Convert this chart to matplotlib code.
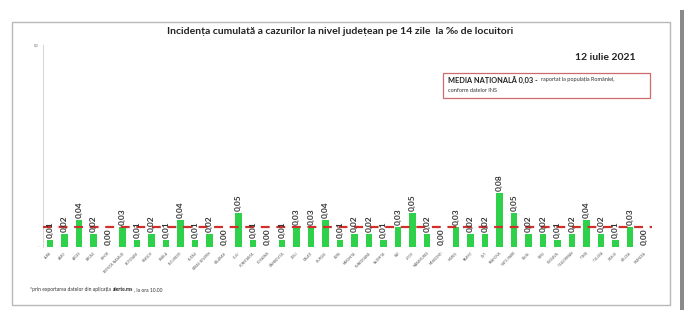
import matplotlib
matplotlib.use("Agg")
import matplotlib.pyplot as plt
from matplotlib.patches import Rectangle

plt.rcParams['font.family'] = ['Lato', 'DejaVu Sans']

judete = ["ALBA", "ARAD", "ARGEȘ", "BACĂU", "BIHOR", "BISTRIȚA-NĂSĂUD", "BOTOȘANI",
          "BRAȘOV", "BRĂILA", "BUCUREȘTI", "BUZĂU", "CARAȘ-SEVERIN", "CĂLĂRAȘI", "CLUJ",
          "CONSTANȚA", "COVASNA", "DÂMBOVIȚA", "DOLJ", "GALAȚI", "GIURGIU", "GORJ",
          "HARGHITA", "HUNEDOARA", "IALOMIȚA", "IAȘI", "ILFOV", "MARAMUREȘ", "MEHEDINȚI",
          "MUREȘ", "NEAMȚ", "OLT", "PRAHOVA", "SATU MARE", "SĂLAJ", "SIBIU", "SUCEAVA",
          "TELEORMAN", "TIMIȘ", "TULCEA", "VASLUI", "VÂLCEA", "VRANCEA"]
incidenta = [0.01, 0.02, 0.04, 0.02, 0.00, 0.03, 0.01, 0.02, 0.01, 0.04, 0.01, 0.02,
             0.00, 0.05, 0.01, 0.00, 0.01, 0.03, 0.03, 0.04, 0.01, 0.02, 0.02, 0.01,
             0.03, 0.05, 0.02, 0.00, 0.03, 0.02, 0.02, 0.08, 0.05, 0.02, 0.02, 0.01,
             0.02, 0.04, 0.02, 0.01, 0.03, 0.00]
media_nationala = 0.03

fig = plt.figure(figsize=(7, 3.28), dpi=100)

# outer frame and the dark bar on the right
fig.patches.append(Rectangle((12 / 700, 1 - 305 / 328), 658 / 700, 283 / 328,
                             transform=fig.transFigure, fill=False,
                             edgecolor='#b8b8b8', linewidth=1.0))
fig.patches.append(Rectangle((680 / 700, 1 - 310 / 328), 4 / 700, 300 / 328,
                             transform=fig.transFigure, facecolor='#8a8a8a',
                             edgecolor='none'))

ax = fig.add_axes([42.75 / 700, 81 / 328, 609 / 700, 202 / 328])
x = range(len(judete))
ax.bar(x, incidenta, width=0.42, color='#2fd04a', zorder=2)
ax.axhline(media_nationala, color='#d0302c', linestyle=(0, (4, 3)), linewidth=1.6, zorder=3)

for i, v in enumerate(incidenta):
    ax.text(i, v + 0.003, f"{v:.2f}".replace('.', ','), rotation=90,
            ha='center', va='bottom', fontsize=6, fontweight='bold',
            color='#333333', zorder=4)

ax.set_xlim(-0.5, len(judete) - 0.5)
ax.set_ylim(0, 0.3)
ax.set_yticks([0, 0.3])
ax.set_yticklabels(['-', '0,3'], fontsize=2.5, color='#666666')
ax.set_xticks(list(x))
ax.set_xticklabels(judete, rotation=45, ha='right', rotation_mode='anchor',
                   fontsize=2.3, color='#555555')
ax.tick_params(axis='both', length=0, pad=3)
for s in ['top', 'right', 'bottom']:
    ax.spines[s].set_visible(False)
ax.spines['left'].set_color('#d8d8d8')
ax.spines['left'].set_linewidth(0.8)

fig.text(340 / 700, 1 - 32 / 328,
         "Incidența cumulată a cazurilor la nivel județean pe 14 zile  la ‰ de locuitori",
         ha='center', va='center', fontsize=7.5, fontweight='bold', color='#222222')
fig.text(636 / 700, 1 - 57 / 328, "12 iulie 2021", ha='right', va='center',
         fontsize=7.5, fontweight='bold', color='#222222')

# national average note
fig.patches.append(Rectangle((443 / 700, 1 - 98 / 328), 207 / 700, 25 / 328,
                             transform=fig.transFigure, fill=False,
                             edgecolor='#d06a6a', linewidth=0.9))
t_media = fig.text(448 / 700, 1 - 80 / 328, "MEDIA NAȚIONALĂ 0,03 -", ha='left',
                   va='center', fontsize=5.3, fontweight='bold', color='#222222')
fig.text(541 / 700, 1 - 80 / 328, "raportat la populația României,", ha='left',
         va='center', fontsize=4.0, color='#333333')
fig.text(448 / 700, 1 - 90 / 328, "conform datelor INS", ha='left', va='center',
         fontsize=4.0, color='#333333')

# footnote, pieces chained one after another
t1 = fig.text(30 / 700, 1 - 291 / 328, "*prin exportarea datelor din aplicația ",
              ha='left', va='baseline', fontsize=3.6, color='#333333')
t2 = fig.text(0, 0, "alerte.ms", ha='left', va='baseline', fontsize=3.6,
              fontweight='bold', color='#222222')
t3 = fig.text(0, 0, ", la ora 10.00", ha='left', va='baseline', fontsize=3.6,
              color='#333333')
fig.canvas.draw()
r = fig.canvas.get_renderer()
x0 = t1.get_window_extent(r).x1
t2.set_position(fig.transFigure.inverted().transform((x0 + 1, 0)) * [1, 0]
                + [0, 1 - 291 / 328])
fig.canvas.draw()
x1 = t2.get_window_extent(r).x1
t3.set_position(fig.transFigure.inverted().transform((x1, 0)) * [1, 0]
                + [0, 1 - 291 / 328])

fig.savefig("out.png", dpi=100)
